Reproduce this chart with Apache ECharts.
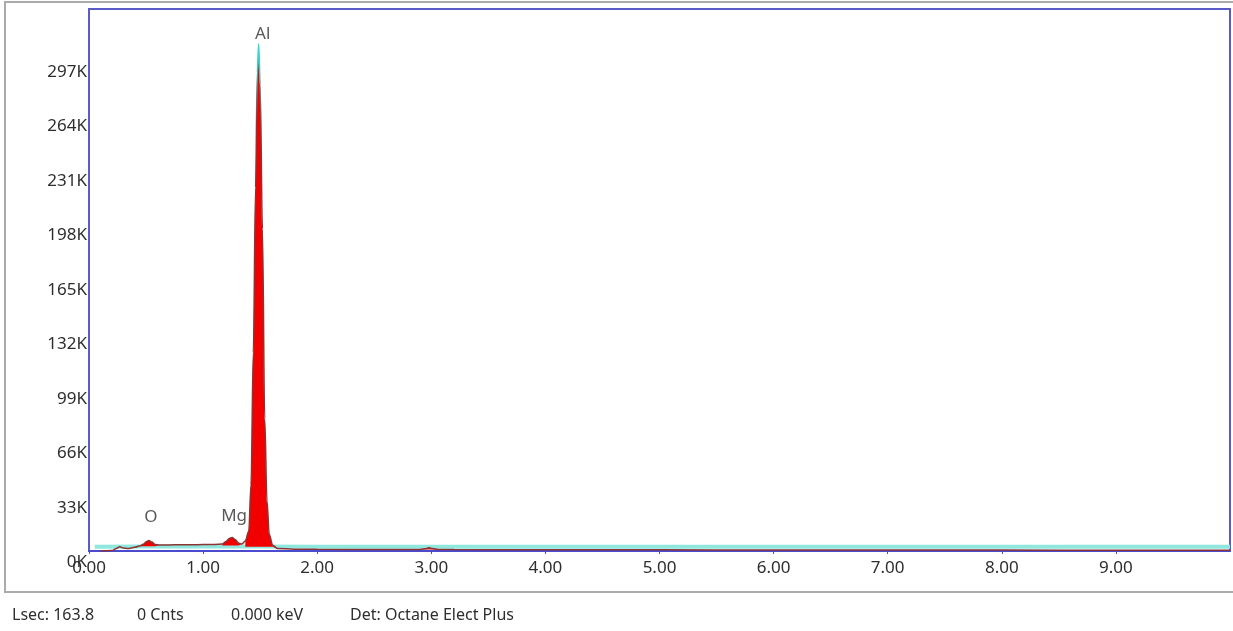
<!DOCTYPE html>
<html>
<head>
<meta charset="utf-8">
<style>
  html, body { margin: 0; padding: 0; background: #ffffff; }
  #chart { width: 1233px; height: 631px; }
</style>
<script src="https://cdn.jsdelivr.net/npm/echarts@6/dist/echarts.min.js"></script>
</head>
<body>
<div id="chart"></div>
<script>
// ---- data ----
const energyKeV = [0.10,0.20,0.24,0.27,0.30,0.34,0.40,0.45,0.48,0.50,0.525,0.55,0.58,0.62,0.70,0.80,0.90,1.00,1.10,1.17,1.20,1.23,1.254,1.28,1.31,1.34,1.37,1.40,1.42,1.44,1.46,1.475,1.487,1.50,1.52,1.54,1.56,1.58,1.61,1.65,1.80,2.00,2.50,2.90,2.95,2.98,3.01,3.06,3.20,4.00,5.00,6.00,7.00,8.00,9.00,10.00];
const counts    = [0,300,1500,2600,1800,1500,2200,3200,4200,5600,6400,5400,3900,3600,3700,3800,3800,3900,4000,4200,5800,7600,8200,7000,4800,4200,6000,12000,40000,120000,220000,290000,307000,282000,195000,80000,30000,10000,3500,1500,1100,1000,900,900,1400,1900,1500,900,850,800,700,650,600,550,500,450];

const backgroundKeV    = [0.05,0.50,1.00,1.50,2.00,4.00,6.00,8.00,10.00];
const backgroundCounts = [2500,2700,2700,2700,2600,2600,2500,2500,2500];

// ROI windows [start keV, end keV, fill base counts]
const roiWindows = [[0.45,0.62,2800],[1.17,1.34,3400],[1.37,1.65,2500],[2.90,3.06,900]];

const peakNames    = ['O','Mg','Al'];
const peakEnergies = [0.525,1.254,1.487];

const yTickValues = [0,33,66,99,132,165,198,231,264,297]; // in K
const xTickLabels = ['0.00','1.00','2.00','3.00','4.00','5.00','6.00','7.00','8.00','9.00'];

const statusItems = ['Lsec: 163.8','0 Cnts','0.000 keV','Det: Octane Elect Plus'];

// ---- build ----
const FONT = '"Noto Sans", "Open Sans", sans-serif';
const TEXT = '#2e2e2e';
const spectrum = energyKeV.map((e, i) => [e, counts[i]]);
const background = backgroundKeV.map((e, i) => [e, backgroundCounts[i]]);

function countAt(e) {
  return counts[energyKeV.indexOf(e)];
}

const labelDistance = { 'O': 15, 'Mg': 13, 'Al': 1 };
const labelDx = { 'O': 2, 'Mg': 2, 'Al': 4 };

const roiSeries = roiWindows.map((w, k) => ({
  type: 'line',
  name: 'roi' + k,
  data: spectrum.filter(p => p[0] >= w[0] && p[0] <= w[1]),
  smooth: 0.35,
  smoothMonotone: 'x',
  symbol: 'none',
  lineStyle: { width: 0 },
  areaStyle: { color: '#f20000', opacity: 1, origin: w[2] },
  z: 3,
  silent: true
}));

const statusX = [12, 137, 231, 350];

const option = {
  animation: false,
  backgroundColor: '#ffffff',
  grid: {
    left: 89, right: 3, top: 9, bottom: 631 - 551,
    show: true, borderColor: '#5a5ac8', borderWidth: 2,
    backgroundColor: 'transparent'
  },
  xAxis: {
    type: 'value', min: 0, max: 10, interval: 1,
    axisLine: { show: true, lineStyle: { color: '#4b4bd0', width: 2 } },
    axisTick: { show: true, length: 3, lineStyle: { color: '#4b4bd0' } },
    splitLine: { show: false },
    axisLabel: {
      showMaxLabel: false,
      margin: 9,
      color: TEXT,
      fontFamily: FONT,
      fontSize: 17,
      formatter: v => xTickLabels[Math.round(v)] || ''
    }
  },
  yAxis: {
    type: 'value', min: 0, max: 328000, interval: 33000,
    axisLine: { show: true, lineStyle: { color: '#5a5ac8', width: 2 } },
    axisTick: { show: false },
    splitLine: { show: false },
    axisLabel: {
      showMaxLabel: false,
      margin: 2,
      color: TEXT,
      fontFamily: FONT,
      fontSize: 17,
      verticalAlign: 'top',
      padding: [3, 0, 0, 0],
      formatter: v => {
        const k = Math.round(v / 1000);
        return yTickValues.indexOf(k) >= 0 ? k + 'K' : '';
      }
    }
  },
  series: [
    {
      type: 'line', name: 'background',
      data: background,
      symbol: 'none',
      lineStyle: { color: '#8fe7de', width: 4 },
      z: 2, silent: true
    },
    ...roiSeries,
    {
      type: 'line', name: 'spectrum',
      data: spectrum,
      smooth: 0.35,
      smoothMonotone: 'x',
      symbol: 'none',
      lineStyle: {
        width: 1.5,
        color: new echarts.graphic.LinearGradient(0, 0, 0, 1, [
          { offset: 0, color: '#2fe3d2' },
          { offset: 0.06, color: '#45c2b8' },
          { offset: 0.16, color: '#8a3434' },
          { offset: 1, color: '#8a3434' }
        ])
      },
      z: 4, silent: true
    },
    {
      type: 'scatter', name: 'peaks',
      symbolSize: 0,
      data: peakNames.map((n, i) => ({
        value: [peakEnergies[i], countAt(peakEnergies[i])],
        name: n,
        label: { distance: labelDistance[n], offset: [labelDx[n], 0] }
      })),
      label: {
        show: true, position: 'top',
        formatter: p => p.name,
        color: TEXT, fontFamily: FONT, fontSize: 17
      },
      z: 5, silent: true
    }
  ],
  graphic: [
    {
      type: 'rect', z: -10, silent: true,
      shape: { x: 5, y: 2, width: 1240, height: 590 },
      style: { fill: 'none', stroke: '#aaaaaa', lineWidth: 2 }
    },
    ...statusItems.map((t, i) => ({
      type: 'text', silent: true,
      left: statusX[i], top: 607,
      style: { text: t, fill: TEXT, font: '16px ' + FONT }
    }))
  ]
};

const chart = echarts.init(document.getElementById('chart'), null, { renderer: 'canvas' });
chart.setOption(option);
</script>
</body>
</html>
